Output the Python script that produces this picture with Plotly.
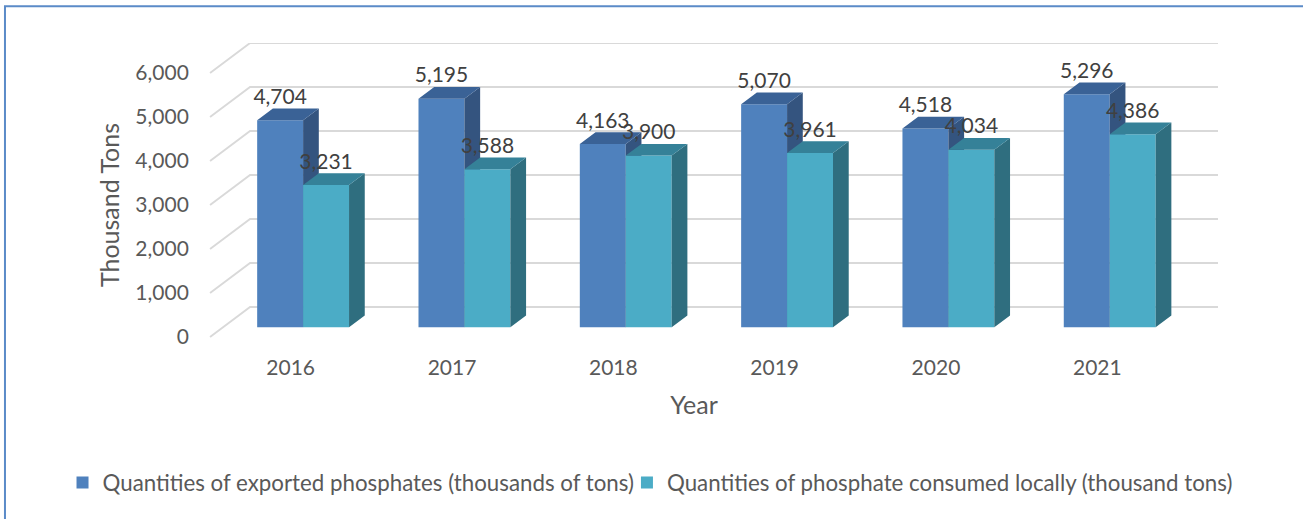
import plotly.graph_objects as go

years = ["2016", "2017", "2018", "2019", "2020", "2021"]
exported = [4704, 5195, 4163, 5070, 4518, 5296]
local = [3231, 3588, 3900, 3961, 4034, 4386]
y_ticks = [0, 1000, 2000, 3000, 4000, 5000, 6000]

W, H = 1303, 519
PX_X = 161.2          # pixels per category
PX_Y = 0.04395        # pixels per thousand-ton unit
cx = lambda p: p / PX_X
cy = lambda p: p / PX_Y

WALL_DX, WALL_DY = cx(40), cy(30)      # depth of the chart box
BAR_DX, BAR_DY = cx(15.7), cy(11.7)    # depth of a bar
SHIFT_X, SHIFT_Y = cx(12.4), cy(9.8)   # bar position inside the box
BAR_W = cx(45.9)
n = len(years)

X_RANGE = [-WALL_DX, n + WALL_DX]
Y_RANGE = [-WALL_DY, 6000 + WALL_DY]
M_L, M_T = 170.4, 42.8
PLOT_W = (X_RANGE[1] - X_RANGE[0]) * PX_X
PLOT_H = (Y_RANGE[1] - Y_RANGE[0]) * PX_Y
M_R = W - M_L - PLOT_W
M_B = H - M_T - PLOT_H

FONT = "Lato"
AXIS_C = "#595959"
LABEL_C = "#404040"
GRID_C = "#D9D9D9"

fig = go.Figure()

# chart box gridlines
gx, gy = [], []
for v in y_ticks:
    gx += [0, WALL_DX, n + WALL_DX, None]
    gy += [v, v + WALL_DY, v + WALL_DY, None]
fig.add_trace(go.Scatter(x=gx, y=gy, mode="lines", line=dict(color=GRID_C, width=1.9),
                         hoverinfo="skip", showlegend=False))


def add_series(name, values, side, xa, ya, legend, front, side_c, top_c):
    centers = [i + 0.5 + SHIFT_X + side * BAR_W / 2 for i in range(n)]
    fig.add_trace(go.Bar(x=centers, y=values, base=[SHIFT_Y] * n, width=BAR_W, name=name,
                         marker=dict(color=front, line=dict(width=0)), xaxis=xa, yaxis=ya,
                         legend=legend, hovertemplate="%{y:,}<extra></extra>"))
    sx, sy, tx, ty = [], [], [], []
    for c, v in zip(centers, values):
        r, l, t, b = c + BAR_W / 2, c - BAR_W / 2, SHIFT_Y + v, SHIFT_Y
        sx += [r, r + BAR_DX, r + BAR_DX, r, r, None]
        sy += [b, b + BAR_DY, t + BAR_DY, t, b, None]
        tx += [l, l + BAR_DX, r + BAR_DX, r, l, None]
        ty += [t, t + BAR_DY, t + BAR_DY, t, t, None]
    for fx, fy, col in ((sx, sy, side_c), (tx, ty, top_c)):
        fig.add_trace(go.Scatter(x=fx, y=fy, mode="lines", fill="toself", fillcolor=col,
                                 line=dict(width=0, color=col), hoverinfo="skip",
                                 showlegend=False, xaxis=xa, yaxis=ya))
    return centers


c_exp = add_series("Quantities of exported phosphates (thousands of tons)", exported, -1,
                   "x2", "y2", "legend", "#4F81BD", "#34547F", "#3A6296")
c_loc = add_series("Quantities of phosphate consumed locally (thousand tons)", local, 1,
                   "x3", "y3", "legend2", "#4BACC6", "#2F6E7F", "#358198")

# data labels on top of everything
for centers, values in ((c_exp, exported), (c_loc, local)):
    fig.add_trace(go.Scatter(x=centers, y=[v + SHIFT_Y + cy(21.5) for v in values], mode="text",
                             text=[f"{v:,}" for v in values], textposition="middle center",
                             textfont=dict(family=FONT, size=21, color=LABEL_C),
                             hoverinfo="skip", showlegend=False, xaxis="x3", yaxis="y3"))

hidden_x = dict(range=X_RANGE, visible=False, overlaying="x", matches="x")
hidden_y = dict(range=Y_RANGE, visible=False, overlaying="y", matches="y")


def px_x(p):
    return (p - M_L) / PLOT_W


def px_y(p):
    return 1 - (p - M_T) / PLOT_H


LEGEND_FONT = dict(family=FONT, size=22.3, color=AXIS_C)

fig.update_layout(
    width=W, height=H, autosize=False,
    margin=dict(l=M_L, r=M_R, t=M_T, b=M_B, pad=0),
    paper_bgcolor="white", plot_bgcolor="white",
    barmode="overlay",
    font=dict(family=FONT, size=21, color=AXIS_C),
    xaxis=dict(range=X_RANGE, tickvals=[i + 0.5 for i in range(n)], ticktext=years,
               showgrid=False, zeroline=False, showline=False,
               ticks="outside", ticklen=12, tickcolor="rgba(0,0,0,0)",
               anchor="free", position=px_y(336.5),
               title=dict(text="Year", standoff=18)),
    yaxis=dict(range=Y_RANGE, tickvals=y_ticks, tickformat=",",
               showgrid=False, zeroline=False, showline=False,
               ticks="outside", ticklen=17, tickcolor="rgba(0,0,0,0)",
               anchor="free", position=px_x(210.4),
               title=dict(text="Thousand Tons", standoff=7)),
    xaxis2=hidden_x, yaxis2=hidden_y,
    xaxis3=hidden_x, yaxis3=hidden_y,
    legend=dict(orientation="h", x=px_x(63), xanchor="left", y=px_y(482), yanchor="middle",
                font=LEGEND_FONT, bgcolor="rgba(0,0,0,0)"),
    legend2=dict(orientation="h", x=px_x(627), xanchor="left", y=px_y(482), yanchor="middle",
                 font=LEGEND_FONT, bgcolor="rgba(0,0,0,0)"),
    shapes=[dict(type="rect", xref="paper", yref="paper", layer="above",
                 x0=px_x(5.5), x1=px_x(1320), y0=px_y(6), y1=px_y(530),
                 line=dict(color="#5B8BC8", width=2))],
)

fig.write_html("out.html", config=dict(displayModeBar=False),
               post_script="document.body.style.margin='0';document.body.style.overflow='hidden';")
